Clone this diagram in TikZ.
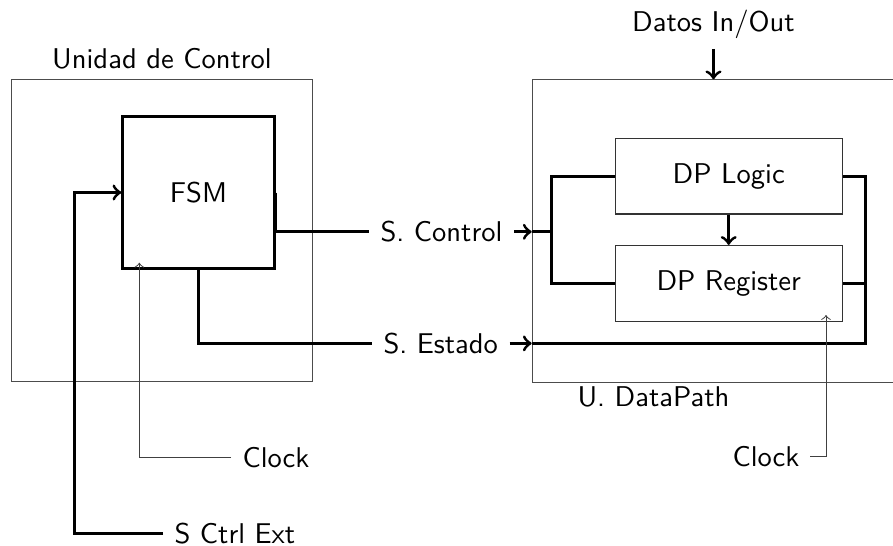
\documentclass[tikz,border=0pt]{standalone}
\usepackage{fontspec}
\usetikzlibrary{calc}
\begin{document}
\begin{tikzpicture}[x=0.35pt,y=-0.35pt,
  font=\sffamily,
  outerbox/.style={draw=black!70, line width=0.4pt, inner sep=0pt},
  fsmbox/.style={draw=black, line width=1pt, inner sep=0pt, minimum width=53pt, minimum height=53pt},
  dpbox/.style={draw=black!80, line width=0.4pt, inner sep=0pt, minimum width=79.5pt, minimum height=26.5pt},
  bus/.style={draw=black, line width=1.05pt},
  clk/.style={draw=black!75, line width=0.35pt},
  lbl/.style={inner ysep=0pt, inner xsep=3.85pt}
]
\useasboundingbox (0,0) rectangle (893,546);
% outer boxes
\node[outerbox, minimum width=105.3pt, minimum height=105.7pt] (uc) at (162,230.5) {};
\node[outerbox, minimum width=154pt, minimum height=105.8pt, anchor=north west] (dp) at (531.7,79.3) {};
\node[anchor=base] (ucl) at (162,68.3) {Unidad de Control};
\node[anchor=base west, inner sep=0pt] (dpl) at (577,406.7) {U. DataPath};
\node[anchor=base] (datos) at (713.5,31.7) {Datos In/Out};
% inner blocks
\node[fsmbox] (fsm) at (198.5,192.5) {FSM};
\node[dpbox] (logic) at (728.7,176.2) {DP Logic};
\node[dpbox] (reg) at (728.7,283.3) {DP Register};
% signal labels
\node[lbl, anchor=base west] (sc) at (369,241.7) {S. Control};
\node[lbl, anchor=base west] (se) at (372,353.3) {S. Estado};
\node[lbl, anchor=west] (sce) at (163,533.3) {S Ctrl Ext};
\node[lbl, anchor=west] (clk1) at (231,457.3) {Clock};
\node[lbl, anchor=east, inner xsep=3.5pt] (clk2) at (810,456.7) {Clock};
% coordinates
\coordinate (inl) at (74.3,192.5);
\coordinate (lb) at (551,230);
\coordinate (rb) at (865.7,343.3);
\coordinate (ct1) at (139.3,262.7);
\coordinate (ct2) at (826,315);
% connectors
\draw[bus,->] (sce.west) -| (inl) -- (fsm.west);
\draw[bus] (fsm.east) -- (fsm.east |- sc.west) -- (sc.west);
\draw[bus] (fsm.south) |- (se.west);
\draw[bus,->] (sc.east) -- (sc.east -| dp.west);
\draw[bus] (sc.east -| dp.west) -- (sc.east -| lb);
\draw[bus] (logic.west) -| (lb) |- (reg.west);
\draw[bus,->] (logic.south) -- (reg.north);
\draw[bus] (logic.east) -| (rb) -- (rb -| dp.west);
\draw[bus] (reg.east) -- (reg.east -| rb);
\draw[bus,->] (se.east) -- (se.east -| dp.west);
\draw[bus,->] (datos.south) -- (datos.south |- dp.north);
\draw[clk,->] (clk1.west) -| (ct1);
\draw[clk,->] (clk2.east) -| (ct2);
\end{tikzpicture}
\end{document}
